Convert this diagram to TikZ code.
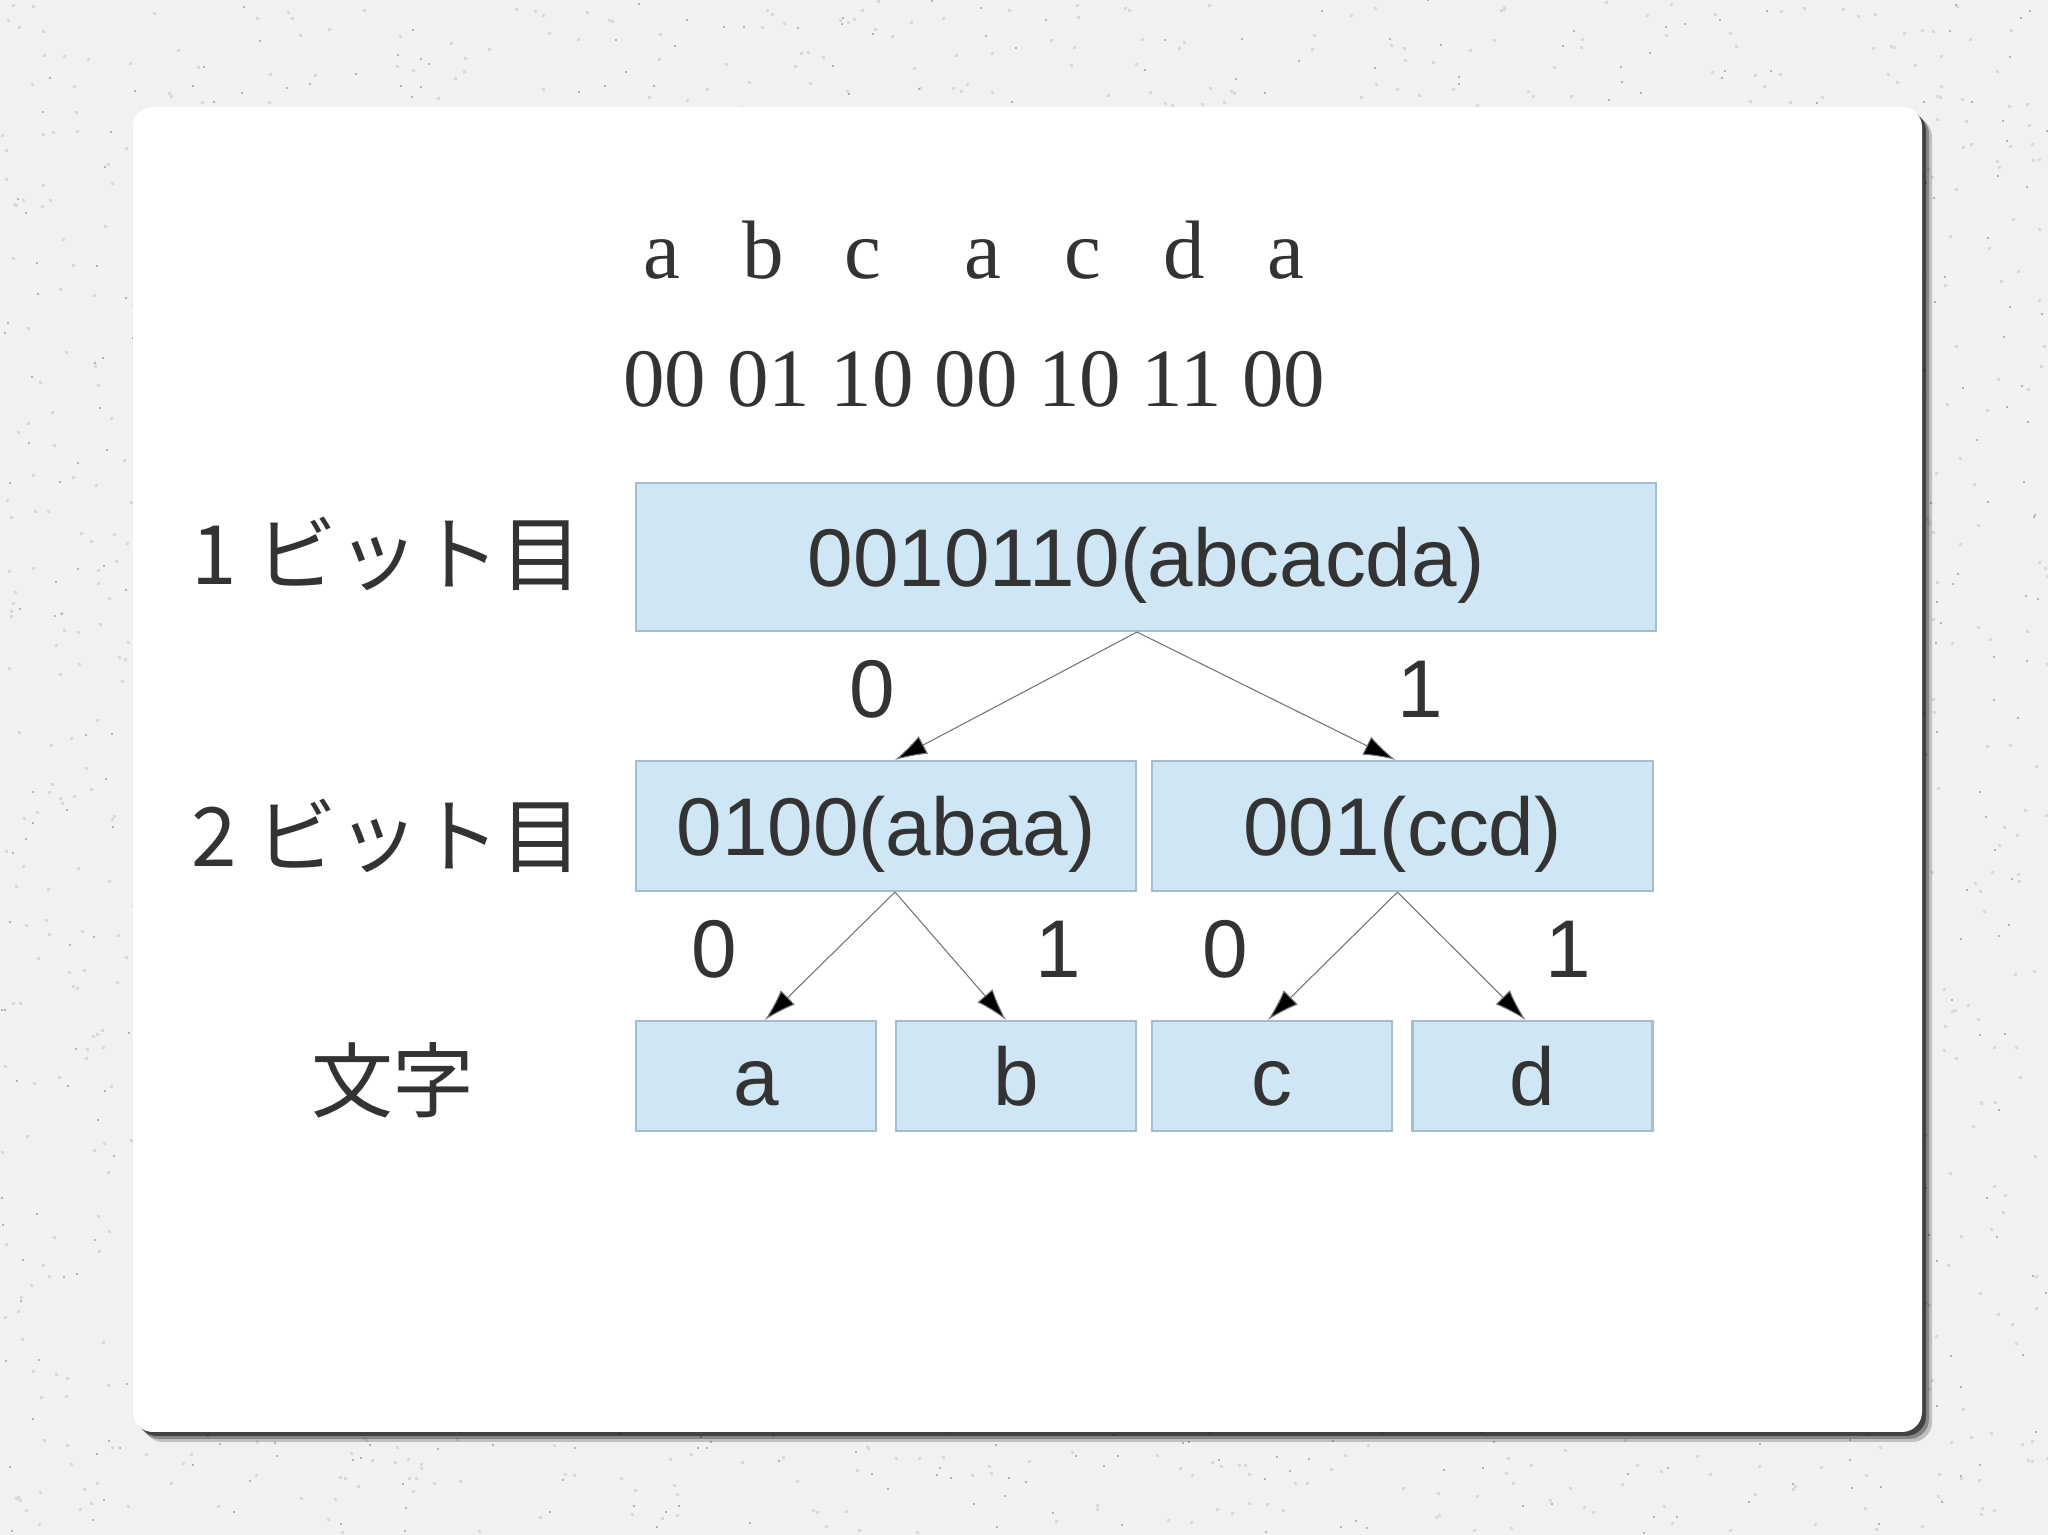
\documentclass[tikz,border=0pt]{standalone}
\usepackage{fontspec}
\setmainfont{Liberation Sans}
\newfontfamily\jpfont{Noto Sans CJK JP}
\newfontfamily\seriffont{Liberation Serif}
\usetikzlibrary{arrows.meta}
\definecolor{texte}{RGB}{51,51,51}
\definecolor{boite}{RGB}{207,230,245}
\definecolor{bord}{RGB}{165,190,205}
\definecolor{fond}{RGB}{241,241,241}

\begin{document}
\begin{tikzpicture}[font=\fontsize{23.3}{28}\selectfont,text=texte,
    boite/.style={draw=bord,fill=boite,line width=0.6pt,inner sep=0pt,text height=0.59cm,text depth=0pt},
    etiq/.style={inner sep=0pt,text height=0.59cm,text depth=0pt},
    rang/.style={font=\jpfont\fontsize{23.3}{28}\selectfont,anchor=base,inner sep=0pt},
    serif/.style={font=\seriffont\fontsize{23.6}{28}\selectfont,anchor=base,inner sep=0pt},
    fleche/.style={draw=black!55,line width=0.3pt,-{Latex[length=0.32cm,width=0.2cm,fill=black]}}]
    \useasboundingbox (0,0) rectangle (20.48,15.35);

    % fond mouchete
    \fill[fond] (0,0) rectangle (20.48,15.35);
    \pgfmathsetseed{11}
    \foreach \i in {1,...,2500}
        \fill[gray!30] ({20.48*rnd},{15.35*rnd}) rectangle ++(0.03,0.03);
    \foreach \i in {1,...,1200}
        \fill[gray!60] ({20.48*rnd},{15.35*rnd}) rectangle ++(0.02,0.02);

    % carte blanche et son ombre
    \foreach \d/\o in {0.10/0.2,0.07/0.3,0.04/0.5}
        \fill[black,opacity=\o,rounded corners=0.2cm] (1.33+\d,1.03-\d) rectangle (19.22+\d,14.28-\d);
    \fill[white,rounded corners=0.2cm] (1.33,1.03) rectangle (19.22,14.28);

    % la chaine et son code
    \foreach \x/\c in {6.62/a,7.63/b,8.63/c,9.83/a,10.83/c,11.84/d,12.86/a}
        \node[serif] at (\x,12.56) {\c};
    \node[serif] (code) at (9.745,11.28) {00 01 10 00 10 11 00};

    % les rangs
    \node[rang] (r1) at (3.87,9.50) {1 ビット目};
    \node[rang] (r2) at (3.87,6.68) {2 ビット目};
    \node[rang] (r3) at (3.93,4.23) {文字};

    % les boites
    \node[boite,minimum width=10.2cm,minimum height=1.48cm] (bit1) at (11.46,9.78) {0010110(abcacda)};
    \node[boite,minimum width=5cm,minimum height=1.3cm] (gauche) at (8.86,7.09) {0100(abaa)};
    \node[boite,minimum width=5.01cm,minimum height=1.3cm] (droite) at (14.025,7.09) {001(ccd)};
    \foreach \n/\x in {a/7.56,b/10.16,c/12.72,d/15.325}
        \node[boite,minimum width=2.4cm,minimum height=1.1cm] (\n) at (\x,4.59) {\n};

    % les fleches
    \draw[fleche] ([xshift=-0.09cm]bit1.south) -- ([xshift=0.09cm]gauche.north);
    \draw[fleche] ([xshift=-0.09cm]bit1.south) -- ([xshift=-0.07cm]droite.north);
    \draw[fleche] ([xshift=0.09cm]gauche.south) -- ([xshift=0.09cm]a.north);
    \draw[fleche] ([xshift=0.09cm]gauche.south) -- ([xshift=-0.1cm]b.north);
    \draw[fleche] ([xshift=-0.05cm]droite.south) -- ([xshift=-0.04cm]c.north);
    \draw[fleche] ([xshift=-0.05cm]droite.south) -- ([xshift=-0.07cm]d.north);

    % les bits sur les fleches
    \node[etiq] (z1) at (8.72,8.47) {0};
    \node[etiq] (u1) at (14.20,8.47) {1};
    \node[etiq] (z2) at (7.14,5.87) {0};
    \node[etiq] (u2) at (10.58,5.87) {1};
    \node[etiq] (z3) at (12.25,5.87) {0};
    \node[etiq] (u3) at (15.68,5.87) {1};
\end{tikzpicture}
\end{document}
